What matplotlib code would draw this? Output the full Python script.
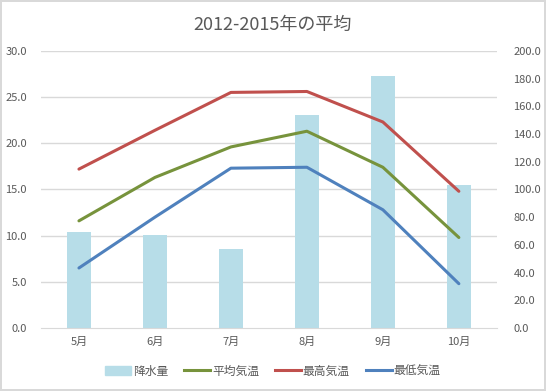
import matplotlib
matplotlib.use("Agg")
import matplotlib.pyplot as plt
from matplotlib.patches import Rectangle

plt.rcParams['font.family'] = ['Noto Sans CJK JP', 'DejaVu Sans']

months = ["5月", "6月", "7月", "8月", "9月", "10月"]
rain = [69.5, 67.1, 57.0, 153.8, 182.0, 103.2]
t_avg = [11.6, 16.3, 19.6, 21.3, 17.4, 9.8]
t_max = [17.2, 21.4, 25.5, 25.6, 22.3, 14.8]
t_min = [6.5, 12.0, 17.3, 17.4, 12.8, 4.8]
left_ticks = [0, 5, 10, 15, 20, 25, 30]
right_ticks = list(range(0, 201, 20))

c_bar = "#B7DDE8"
c_avg = "#77933C"
c_max = "#C0504D"
c_min = "#4F81BD"
c_grid = "#D9D9D9"
c_text = "#595959"

fig = plt.figure(figsize=(5.46, 3.91), dpi=100)
fig.patch.set_edgecolor(c_grid)
fig.patch.set_linewidth(1.5)

ax = fig.add_axes([0.075, 0.161, 0.835, 0.709])
x = list(range(len(months)))
ax.bar(x, rain, width=0.32, color=c_bar, zorder=2)
ax.set_ylim(0, 200)
ax.set_xlim(-0.5, len(months) - 0.5)
for v in left_ticks[1:]:
    ax.axhline(v * 200 / 30, color=c_grid, lw=1, zorder=0)
ax.set_xticks(x)
ax.set_xticklabels(months)

ax2 = ax.twinx()
ax2.plot(x, t_avg, color=c_avg, lw=2.2, solid_capstyle='round')
ax2.plot(x, t_max, color=c_max, lw=2.2, solid_capstyle='round')
ax2.plot(x, t_min, color=c_min, lw=2.2, solid_capstyle='round')
ax2.set_ylim(0, 30)

ax.yaxis.tick_right()
ax.set_yticks(right_ticks)
ax.set_yticklabels([f"{v:.1f}" for v in right_ticks])
ax2.yaxis.tick_left()
ax2.set_yticks(left_ticks)
ax2.set_yticklabels([f"{v:.1f}" for v in left_ticks])

for a in (ax, ax2):
    for s in a.spines.values():
        s.set_visible(False)
    a.tick_params(length=0, labelsize=8, labelcolor=c_text, pad=6)
ax.spines['bottom'].set_visible(True)
ax.spines['bottom'].set_color(c_grid)
ax.tick_params(axis='y', pad=12)
ax2.tick_params(axis='y', pad=10)

fig.text(0.5, 0.935, "2012-2015年の平均", ha='center', va='center',
         fontsize=13, color=c_text)

handles = [Rectangle((0, 0), 1, 1, color=c_bar),
           plt.Line2D([], [], color=c_avg, lw=2.2),
           plt.Line2D([], [], color=c_max, lw=2.2),
           plt.Line2D([], [], color=c_min, lw=2.2)]
labels = ["降水量", "平均気温", "最高気温", "最低気温"]
fig.legend(handles, labels, loc='center', bbox_to_anchor=(0.5, 0.051), ncol=4,
           frameon=False, fontsize=8.5, labelcolor=c_text, handlelength=2.2,
           handletextpad=0.15, columnspacing=1.35, handleheight=0.9)

fig.savefig("out.png", dpi=100, edgecolor=fig.get_edgecolor())
